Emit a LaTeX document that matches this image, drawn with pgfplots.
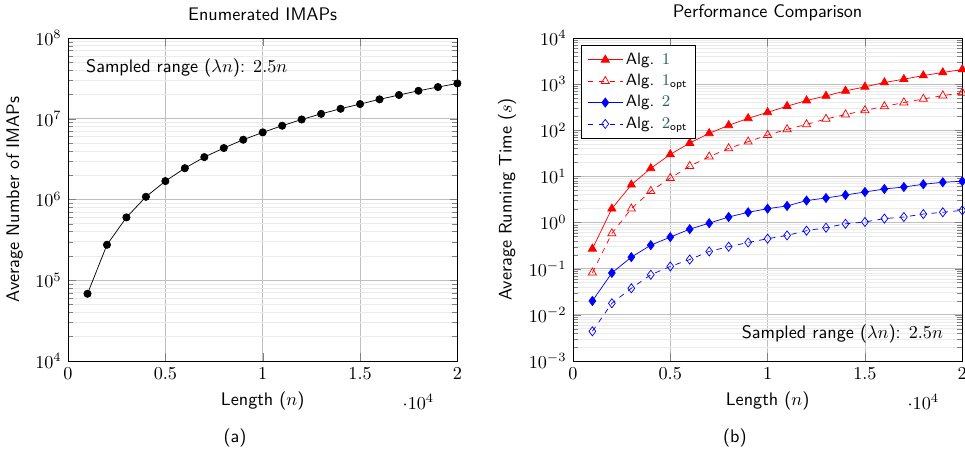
\documentclass[border=0pt]{standalone}
\usepackage{amsmath}
\usepackage{pgfplots}
\pgfplotsset{compat=1.18}
\definecolor{numcol}{RGB}{45,95,95}
\begin{document}
\begin{tikzpicture}
\begin{semilogyaxis}[
  scale only axis, width=214pt, height=177.5pt,
  xmin=0, xmax=20000,
  xtick={0,5000,10000,15000,20000},
  grid=both,
  major grid style={thin, black!25},
  minor grid style={thin, black!8},
  label style={font=\sffamily},
  title style={font=\sffamily},
  ymin=1e4, ymax=1e8,
  title={Enumerated IMAPs},
  xlabel={Length ($n$)},
  ylabel={Average Number of IMAPs},
]
\addplot[black, mark=*, mark size=2pt] coordinates {
(1000,6.8e4) (2000,2.75e5) (3000,6.0e5) (4000,1.08e6) (5000,1.69e6)
(6000,2.44e6) (7000,3.35e6) (8000,4.34e6) (9000,5.5e6) (10000,6.78e6)
(11000,8.2e6) (12000,9.8e6) (13000,1.15e7) (14000,1.33e7) (15000,1.52e7)
(16000,1.74e7) (17000,1.97e7) (18000,2.22e7) (19000,2.47e7) (20000,2.74e7)
};
\node[anchor=west, font=\sffamily] at (rel axis cs:0.03,0.907) {Sampled range ($\lambda n$): $2.5n$};
\end{semilogyaxis}
\node[font=\sffamily] at (91.8pt,-42.3pt) {(a)};
\begin{semilogyaxis}[xshift=277.5pt,
  scale only axis, width=214pt, height=177.5pt,
  xmin=0, xmax=20000,
  xtick={0,5000,10000,15000,20000},
  grid=both,
  major grid style={thin, black!25},
  minor grid style={thin, black!8},
  label style={font=\sffamily},
  title style={font=\sffamily},
  ymin=1e-3, ymax=1e4,
  title={Performance Comparison},
  xlabel={Length ($n$)},
  ylabel={Average Running Time ($s$)},
  legend image code/.code={\draw[mark repeat=2,mark phase=2] plot coordinates {(0cm,0cm) (0.34cm,0cm) (0.68cm,0cm)};},
  legend style={font=\sffamily\fontsize{9}{11}\selectfont, at={(0.022,0.978)}, anchor=north west, cells={anchor=west}, row sep=0pt, inner xsep=3pt, inner ysep=2pt, nodes={inner xsep=1.5pt}},
]
\addplot[red, mark=triangle*, mark size=2.6pt] coordinates {
(1000,0.27) (2000,2.0) (3000,6.6) (4000,15) (5000,30)
(6000,53) (7000,86) (8000,128) (9000,182) (10000,245)
(11000,333) (12000,442) (13000,556) (14000,714) (15000,874)
(16000,1086) (17000,1282) (18000,1540) (19000,1790) (20000,2080)
};
\addlegendentry{Alg. {\color{numcol}$1$}}
\addplot[red, dashed, mark=triangle, mark size=2.6pt, mark options={solid}] coordinates {
(1000,0.082) (2000,0.58) (3000,2.0) (4000,4.8) (5000,9.2)
(6000,16.7) (7000,26.8) (8000,40.5) (9000,56.6) (10000,79)
(11000,105) (12000,134) (13000,176) (14000,219) (15000,270)
(16000,330) (17000,400) (18000,478) (19000,565) (20000,650)
};
\addlegendentry{Alg. {\color{numcol}$1$}$_{\text{opt}}$}
\addplot[blue, mark=diamond*, mark size=2.5pt] coordinates {
(1000,0.020) (2000,0.081) (3000,0.178) (4000,0.324) (5000,0.484)
(6000,0.72) (7000,0.97) (8000,1.32) (9000,1.67) (10000,2.0)
(11000,2.29) (12000,3.0) (13000,3.41) (14000,3.96) (15000,4.6)
(16000,5.35) (17000,5.9) (18000,6.76) (19000,7.48) (20000,7.86)
};
\addlegendentry{Alg. {\color{numcol}$2$}}
\addplot[blue, dashed, mark=diamond, mark size=2.5pt, mark options={solid}] coordinates {
(1000,0.0044) (2000,0.0178) (3000,0.0377) (4000,0.074) (5000,0.112)
(6000,0.158) (7000,0.237) (8000,0.30) (9000,0.37) (10000,0.447)
(11000,0.527) (12000,0.667) (13000,0.775) (14000,0.94) (15000,1.03)
(16000,1.22) (17000,1.32) (18000,1.53) (19000,1.67) (20000,1.84)
};
\addlegendentry{Alg. {\color{numcol}$2$}$_{\text{opt}}$}
\node[anchor=east, font=\sffamily] at (rel axis cs:0.967,0.084) {Sampled range ($\lambda n$): $2.5n$};
\end{semilogyaxis}
\node[font=\sffamily] at (366.5pt,-42.3pt) {(b)};
\pgfresetboundingbox
\path (-37.4pt,-51.7pt) rectangle (493pt,198.4pt);
\end{tikzpicture}
\end{document}
